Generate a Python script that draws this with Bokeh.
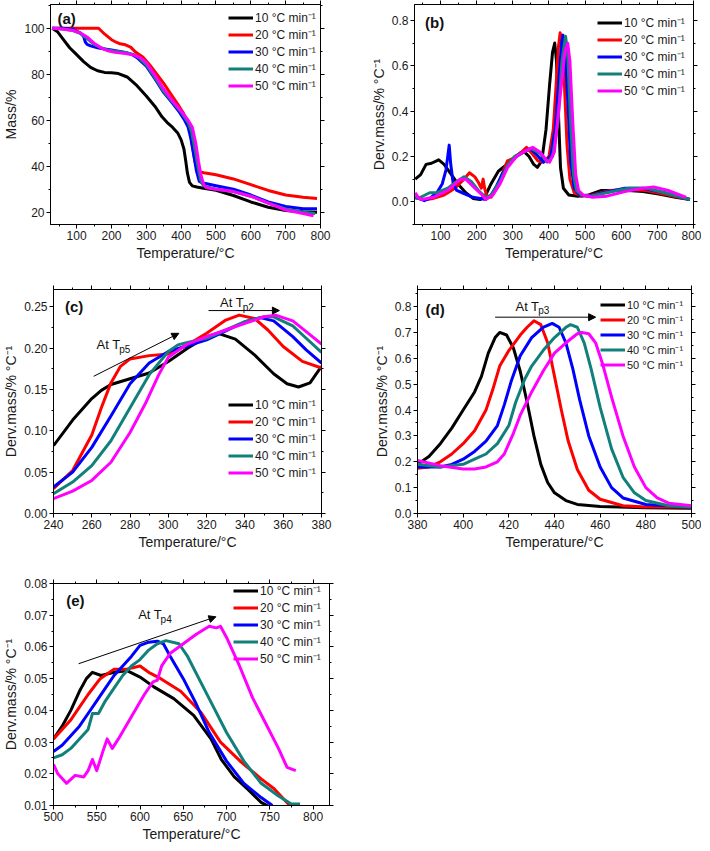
from bokeh.plotting import figure
from bokeh.models import (Range1d, LinearAxis, SingleIntervalTicker, NumeralTickFormatter,
                          CustomJSTickFormatter, Legend, LegendItem, Label, Arrow, NormalHead)
from bokeh.layouts import column, row
from bokeh.embed import file_html
from bokeh.resources import INLINE

RATE_LABELS = ["10 °C min⁻¹", "20 °C min⁻¹", "30 °C min⁻¹", "40 °C min⁻¹", "50 °C min⁻¹"]
COLORS = ["#000000", "#ff0000", "#0000ff", "#12807a", "#ff00ff"]
FONT = "Liberation Sans"

# ---------------- (a) TGA mass % ----------------
a_t10 = [30, 45, 60, 80, 100, 120, 140, 160, 180, 200, 220, 245, 270, 300, 325, 345, 360, 375, 390, 400, 408, 413, 418, 424, 432, 445, 460, 500, 550, 600, 650, 700, 750, 790]
a_m10 = [100, 98.5, 95.5, 91.5, 88.5, 85.5, 83, 81.5, 80.8, 80.6, 80.3, 78.8, 75.5, 70.5, 66, 61.5, 59, 57, 54.5, 51.5, 47.5, 42.5, 37, 33, 31.5, 31, 30.6, 29.6, 27.3, 24.5, 22.2, 20.8, 20.2, 20]
a_t20 = [30, 80, 120, 163, 180, 200, 215, 225, 240, 255, 270, 290, 310, 330, 350, 370, 390, 405, 415, 425, 432, 440, 448, 455, 465, 500, 550, 600, 650, 700, 750, 790]
a_m20 = [100, 100, 100, 100, 97.5, 95, 93.8, 93.2, 92.8, 91.8, 89.5, 87.5, 84, 80, 76, 71.5, 67, 63.5, 60.5, 56, 49, 42, 38.5, 37.5, 37.2, 36.3, 34.5, 32, 29.5, 27.5, 26.5, 26]
a_t30 = [30, 60, 90, 110, 120, 125, 130, 140, 160, 180, 200, 220, 240, 260, 275, 300, 325, 350, 375, 395, 410, 420, 428, 436, 444, 452, 460, 470, 500, 550, 600, 650, 700, 750, 790]
a_m30 = [100, 100, 99.5, 98, 96.5, 94, 93, 92.3, 91.5, 91, 90.5, 90, 89.5, 88.5, 87, 83.5, 78, 72, 67.5, 63.5, 60, 57, 52, 45, 38, 33.5, 32.8, 32.5, 31.5, 30, 27.5, 24.5, 22.5, 21.5, 21.5]
a_t40 = [30, 60, 90, 110, 130, 150, 170, 190, 210, 240, 265, 280, 300, 325, 350, 375, 400, 420, 430, 440, 448, 456, 464, 475, 500, 550, 600, 650, 700, 750, 785]
a_m40 = [100, 99.7, 99, 97.8, 95.5, 93, 91.5, 90.5, 90, 89.5, 88.5, 87, 84, 78.5, 72.5, 68, 63.5, 59, 55, 47, 40, 34, 31.5, 31, 30, 29, 27, 24, 21.5, 20, 19.5]
a_t50 = [30, 60, 90, 110, 130, 150, 170, 190, 210, 240, 265, 285, 300, 325, 350, 375, 400, 420, 432, 442, 450, 457, 465, 472, 490, 550, 600, 650, 700, 750, 780]
a_m50 = [100, 99.7, 99, 98, 96.2, 93.5, 91.5, 90.2, 89.5, 89, 88.3, 87, 85, 79.5, 73.5, 68.5, 64, 60, 57, 50, 42, 36, 32, 30.8, 30.2, 29, 27, 24, 21, 19.5, 18.5]

# ---------------- (b) DTG full range ----------------
b_t10 = [30, 45, 60, 75, 95, 110, 130, 150, 170, 190, 210, 225, 240, 260, 280, 300, 320, 332, 345, 358, 368, 380, 392, 402, 410, 416, 421, 426, 432, 440, 455, 480, 510, 545, 580, 620, 660, 700, 750, 790]
b_v10 = [0.10, 0.12, 0.165, 0.17, 0.185, 0.165, 0.12, 0.075, 0.04, 0.015, 0.01, 0.03, 0.08, 0.135, 0.16, 0.19, 0.215, 0.22, 0.20, 0.165, 0.152, 0.18, 0.32, 0.52, 0.66, 0.70, 0.62, 0.40, 0.15, 0.06, 0.03, 0.025, 0.03, 0.05, 0.05, 0.05, 0.045, 0.035, 0.02, 0.01]
b_t20 = [30, 45, 60, 80, 110, 140, 165, 180, 195, 205, 213, 218, 222, 228, 240, 255, 270, 285, 300, 325, 338, 355, 370, 385, 400, 412, 420, 426, 431, 436, 442, 450, 458, 470, 490, 520, 570, 620, 670, 730, 790]
b_v20 = [0.02, 0.012, 0.01, 0.015, 0.03, 0.06, 0.1, 0.128, 0.11, 0.085, 0.06, 0.10, 0.06, 0.025, 0.02, 0.06, 0.12, 0.18, 0.19, 0.22, 0.24, 0.21, 0.18, 0.175, 0.2, 0.32, 0.52, 0.68, 0.745, 0.70, 0.55, 0.25, 0.1, 0.04, 0.025, 0.03, 0.05, 0.055, 0.05, 0.03, 0.01]
b_t30 = [30, 40, 55, 70, 90, 105, 115, 120, 124, 128, 135, 145, 160, 175, 190, 210, 225, 240, 255, 270, 290, 310, 330, 348, 365, 385, 405, 418, 428, 435, 439, 444, 452, 460, 470, 485, 510, 550, 610, 660, 720, 790]
b_v30 = [0.02, 0.015, 0.005, 0.015, 0.04, 0.08, 0.14, 0.20, 0.25, 0.17, 0.08, 0.05, 0.04, 0.03, 0.02, 0.015, 0.01, 0.03, 0.07, 0.12, 0.17, 0.2, 0.22, 0.235, 0.21, 0.175, 0.2, 0.33, 0.55, 0.70, 0.735, 0.68, 0.45, 0.18, 0.06, 0.03, 0.025, 0.04, 0.06, 0.06, 0.04, 0.01]
b_t40 = [30, 45, 70, 90, 120, 145, 165, 185, 205, 225, 240, 265, 285, 305, 325, 350, 375, 395, 410, 425, 436, 446, 452, 460, 468, 476, 490, 515, 560, 620, 670, 720, 790]
b_v40 = [0.015, 0.02, 0.04, 0.04, 0.06, 0.09, 0.11, 0.09, 0.05, 0.02, 0.03, 0.09, 0.16, 0.2, 0.215, 0.235, 0.215, 0.175, 0.2, 0.35, 0.62, 0.73, 0.65, 0.35, 0.12, 0.05, 0.03, 0.025, 0.04, 0.06, 0.06, 0.04, 0.01]
b_t50 = [30, 40, 50, 80, 120, 155, 170, 195, 215, 225, 245, 265, 285, 310, 330, 355, 375, 395, 402, 415, 430, 444, 452, 458, 466, 474, 482, 495, 520, 560, 610, 660, 690, 730, 780]
b_v50 = [0.04, 0.015, 0.01, 0.02, 0.05, 0.10, 0.10, 0.06, 0.03, 0.01, 0.03, 0.08, 0.15, 0.2, 0.22, 0.24, 0.22, 0.18, 0.175, 0.22, 0.45, 0.66, 0.70, 0.62, 0.35, 0.12, 0.05, 0.03, 0.02, 0.025, 0.045, 0.06, 0.065, 0.05, 0.02]

# ---------------- (c) DTG 240-380 ----------------
c_t10 = [240, 250, 260, 265, 270, 280, 290, 300, 310, 320, 326, 335, 345, 355, 362, 368, 374, 380]
c_v10 = [0.082, 0.113, 0.139, 0.149, 0.156, 0.163, 0.170, 0.184, 0.200, 0.214, 0.218, 0.211, 0.192, 0.169, 0.157, 0.153, 0.158, 0.178]
c_t20 = [240, 250, 260, 265, 270, 275, 280, 290, 300, 310, 320, 330, 337, 345, 352, 360, 370, 380]
c_v20 = [0.030, 0.052, 0.095, 0.128, 0.158, 0.178, 0.187, 0.191, 0.193, 0.204, 0.218, 0.234, 0.240, 0.236, 0.222, 0.202, 0.184, 0.176]
c_t30 = [240, 250, 260, 270, 280, 290, 300, 310, 320, 330, 340, 348, 355, 365, 372, 380]
c_v30 = [0.032, 0.050, 0.080, 0.118, 0.157, 0.182, 0.196, 0.203, 0.210, 0.221, 0.232, 0.237, 0.233, 0.214, 0.198, 0.182]
c_t40 = [240, 250, 260, 270, 280, 290, 300, 305, 310, 320, 330, 340, 350, 355, 365, 372, 380]
c_v40 = [0.024, 0.038, 0.058, 0.088, 0.128, 0.168, 0.196, 0.204, 0.207, 0.212, 0.222, 0.232, 0.238, 0.238, 0.227, 0.212, 0.195]
c_t50 = [240, 250, 260, 270, 280, 288, 295, 300, 310, 320, 330, 340, 350, 356, 365, 372, 380]
c_v50 = [0.018, 0.027, 0.040, 0.062, 0.098, 0.133, 0.168, 0.189, 0.205, 0.214, 0.222, 0.230, 0.238, 0.240, 0.233, 0.220, 0.205]

# ---------------- (d) DTG 380-500 ----------------
d_t10 = [380, 385, 390, 395, 400, 405, 408, 411, 414, 416, 419, 422, 425, 428, 431, 434, 437, 440, 445, 450, 460, 480, 500]
d_v10 = [0.19, 0.22, 0.27, 0.33, 0.40, 0.47, 0.53, 0.62, 0.68, 0.70, 0.69, 0.64, 0.55, 0.43, 0.30, 0.19, 0.12, 0.08, 0.05, 0.035, 0.027, 0.022, 0.02]
d_t20 = [380, 385, 390, 395, 400, 405, 410, 413, 416, 420, 425, 428, 431, 434, 437, 440, 443, 446, 450, 455, 460, 470, 480, 500]
d_v20 = [0.175, 0.18, 0.2, 0.23, 0.27, 0.32, 0.4, 0.48, 0.57, 0.63, 0.69, 0.72, 0.745, 0.73, 0.66, 0.53, 0.4, 0.28, 0.17, 0.09, 0.055, 0.03, 0.025, 0.025]
d_t30 = [380, 390, 395, 400, 405, 410, 415, 418, 421, 425, 430, 435, 439, 442, 445, 448, 451, 455, 460, 465, 470, 480, 490, 500]
d_v30 = [0.18, 0.18, 0.19, 0.21, 0.24, 0.28, 0.34, 0.42, 0.51, 0.61, 0.68, 0.72, 0.735, 0.72, 0.66, 0.56, 0.44, 0.3, 0.18, 0.1, 0.06, 0.035, 0.03, 0.025]
d_t40 = [380, 390, 400, 405, 410, 415, 420, 423, 427, 430, 435, 440, 445, 447, 450, 453, 456, 460, 465, 470, 475, 480, 490, 500]
d_v40 = [0.19, 0.18, 0.19, 0.21, 0.23, 0.27, 0.34, 0.43, 0.52, 0.57, 0.63, 0.68, 0.72, 0.73, 0.72, 0.66, 0.56, 0.41, 0.25, 0.14, 0.08, 0.05, 0.03, 0.025]
d_t50 = [380, 390, 400, 405, 410, 415, 418, 422, 425, 430, 435, 440, 445, 450, 452, 455, 458, 461, 465, 470, 475, 480, 485, 490, 500]
d_v50 = [0.205, 0.185, 0.172, 0.172, 0.18, 0.2, 0.23, 0.31, 0.38, 0.47, 0.55, 0.62, 0.66, 0.695, 0.70, 0.695, 0.66, 0.58, 0.45, 0.3, 0.18, 0.1, 0.06, 0.04, 0.03]

# ---------------- (e) DTG 500-800 ----------------
e_t10 = [500, 510, 520, 530, 538, 545, 555, 570, 585, 600, 616, 639, 662, 682, 694, 709, 725, 740, 750]
e_v10 = [0.031, 0.035, 0.040, 0.046, 0.050, 0.052, 0.051, 0.052, 0.0525, 0.0505, 0.0474, 0.0437, 0.0384, 0.031, 0.0245, 0.019, 0.015, 0.011, 0.0095]
e_t20 = [500, 510, 520, 530, 540, 554, 570, 585, 600, 610, 624, 647, 670, 693, 717, 740, 755, 773]
e_v20 = [0.031, 0.034, 0.037, 0.041, 0.045, 0.050, 0.053, 0.053, 0.054, 0.052, 0.050, 0.046, 0.0395, 0.030, 0.0237, 0.0184, 0.0153, 0.010]
e_t30 = [500, 510, 520, 530, 540, 550, 560, 570, 580, 590, 600, 610, 620, 627, 635, 650, 665, 680, 700, 720, 740, 753]
e_v30 = [0.027, 0.029, 0.032, 0.035, 0.039, 0.043, 0.047, 0.051, 0.054, 0.057, 0.0605, 0.0615, 0.0618, 0.061, 0.057, 0.050, 0.042, 0.033, 0.024, 0.017, 0.0125, 0.010]
e_t40 = [500, 510, 520, 530, 540, 545, 552, 560, 570, 580, 590, 600, 610, 620, 630, 645, 655, 670, 685, 700, 720, 740, 760, 775, 785]
e_v40 = [0.025, 0.026, 0.028, 0.031, 0.034, 0.039, 0.039, 0.043, 0.047, 0.051, 0.054, 0.056, 0.059, 0.061, 0.062, 0.061, 0.057, 0.049, 0.041, 0.033, 0.024, 0.017, 0.013, 0.0105, 0.0105]
e_t50 = [500, 505, 515, 525, 535, 540, 545, 550, 557, 562, 568, 575, 590, 605, 615, 620, 625, 635, 650, 665, 680, 688, 693, 700, 715, 730, 745, 760, 770, 780]
e_v50 = [0.023, 0.020, 0.017, 0.0195, 0.019, 0.021, 0.0245, 0.021, 0.027, 0.031, 0.028, 0.031, 0.038, 0.045, 0.049, 0.0495, 0.054, 0.058, 0.061, 0.064, 0.0665, 0.066, 0.0665, 0.063, 0.054, 0.044, 0.036, 0.028, 0.022, 0.021]

DERIV_LABEL = "Derv.mass/% °C⁻¹"


def style_axis(ax, ticker, fmt=None, labels=True):
    ax.ticker = ticker
    ax.major_tick_in = 0
    ax.major_tick_out = 4
    ax.minor_tick_in = 0
    ax.minor_tick_out = 2
    ax.axis_line_color = "black"
    ax.major_tick_line_color = "black"
    ax.minor_tick_line_color = "black"
    if labels:
        ax.major_label_text_font = FONT
        ax.major_label_text_font_size = "12px"
        ax.major_label_text_color = "#1a1a1a"
        ax.major_label_standoff = 2
        ax.axis_label_text_font = FONT
        ax.axis_label_text_font_size = "14px"
        ax.axis_label_text_font_style = "normal"
        ax.axis_label_text_color = "#1a1a1a"
        ax.axis_label_standoff = 2
        if fmt:
            ax.formatter = NumeralTickFormatter(format=fmt)
    else:
        ax.formatter = CustomJSTickFormatter(code="return ''")
        ax.major_label_standoff = 0


def make_panel(width, height, borders, xr, yr, xint, yint, yfmt, ylabel, series,
               leg_right, leg_top, leg_font, leg_bottom=None, letter="", letter_xy=(0, 0)):
    l, r, t, b = borders
    p = figure(width=width, height=height, x_range=Range1d(*xr), y_range=Range1d(*yr),
               output_backend="svg", toolbar_location=None,
               min_border_left=l, min_border_right=r, min_border_top=t, min_border_bottom=b)
    p.xgrid.visible = False
    p.ygrid.visible = False
    p.outline_line_color = "black"
    style_axis(p.xaxis[0], SingleIntervalTicker(interval=xint, num_minor_ticks=2), "0")
    p.xaxis[0].axis_label = "Temperature/°C"
    style_axis(p.yaxis[0], SingleIntervalTicker(interval=yint, num_minor_ticks=2), yfmt)
    p.yaxis[0].axis_label = ylabel
    top = LinearAxis()
    style_axis(top, SingleIntervalTicker(interval=xint, num_minor_ticks=2), labels=False)
    p.add_layout(top, "above")
    right = LinearAxis()
    style_axis(right, SingleIntervalTicker(interval=yint, num_minor_ticks=2), labels=False)
    p.add_layout(right, "right")

    items = []
    for (xs, ys), lab, col in zip(series, RATE_LABELS, COLORS):
        rr = p.line(xs, ys, line_color=col, line_width=3, line_join="round")
        items.append(LegendItem(label=lab, renderers=[rr]))

    fw = width - l - r
    fh = height - t - b
    lw = 4 + 25 + 2 + int(leg_font * 5.3)
    lh = 4 + 5 * 15
    ly = (fh - leg_top - lh) if leg_bottom is None else leg_bottom
    legend = Legend(items=items, location=(fw - leg_right - lw, ly),
                    border_line_color=None, background_fill_alpha=0,
                    glyph_width=25, glyph_height=15, label_height=15, spacing=0,
                    padding=2, margin=0, label_standoff=2,
                    label_text_font=FONT, label_text_font_size=f"{leg_font}px",
                    label_text_color="#1a1a1a")
    p.add_layout(legend)

    p.add_layout(Label(x=letter_xy[0], y=letter_xy[1], text=letter, text_font=FONT,
                       text_font_size="15px", text_font_style="bold",
                       text_baseline="top", text_color="#111111"))
    return p


def add_arrow_note(p, start, end, text_xy, sub, sub_xy):
    p.add_layout(Arrow(end=NormalHead(size=7, fill_color="black", line_color="black"),
                       x_start=start[0], y_start=start[1], x_end=end[0], y_end=end[1],
                       line_color="black", line_width=1))
    p.add_layout(Label(x=text_xy[0], y=text_xy[1], text="At T", text_font=FONT,
                       text_font_size="13px", text_baseline="middle", text_color="#111111"))
    p.add_layout(Label(x=sub_xy[0], y=sub_xy[1], text=sub, text_font=FONT,
                       text_font_size="10px", text_baseline="middle", text_color="#111111"))


pa = make_panel(349, 263, (44, 29, 4, 39), (25, 800), (14.7, 110.3), 100, 20, "0", "Mass/%",
                [(a_t10, a_m10), (a_t20, a_m20), (a_t30, a_m30), (a_t40, a_m40), (a_t50, a_m50)],
                leg_right=4, leg_top=11, leg_font=12, letter="(a)", letter_xy=(45, 108))
pb = make_panel(352, 263, (65, 8, 4, 39), (28, 800), (-0.1, 0.87), 100, 0.2, "0.0", DERIV_LABEL,
                [(b_t10, b_v10), (b_t20, b_v20), (b_t30, b_v30), (b_t40, b_v40), (b_t50, b_v50)],
                leg_right=2, leg_top=16, leg_font=12, letter="(b)", letter_xy=(57, 0.83))
pc = make_panel(349, 290, (50, 28, 26, 40), (240, 380), (0, 0.271), 20, 0.05, "0.00", DERIV_LABEL,
                [(c_t10, c_v10), (c_t20, c_v20), (c_t30, c_v30), (c_t40, c_v40), (c_t50, c_v50)],
                leg_right=2, leg_top=0, leg_font=12, leg_bottom=32, letter="(c)", letter_xy=(246, 0.261))
pd = make_panel(352, 290, (68, 10, 20, 40), (380, 500), (0, 0.866), 20, 0.1, "0.0", DERIV_LABEL,
                [(d_t10, d_v10), (d_t20, d_v20), (d_t30, d_v30), (d_t40, d_v40), (d_t50, d_v50)],
                leg_right=2, leg_top=10, leg_font=11, letter="(d)", letter_xy=(383.5, 0.82))
pe = make_panel(349, 291, (53, 20, 30, 39), (500, 819), (0.01, 0.08), 50, 0.01, "0.00", DERIV_LABEL,
                [(e_t10, e_v10), (e_t20, e_v20), (e_t30, e_v30), (e_t40, e_v40), (e_t50, e_v50)],
                leg_right=2, leg_top=5, leg_font=12, letter="(e)", letter_xy=(514.7, 0.0772))

add_arrow_note(pc, (321, 0.2455), (358, 0.2455), (327, 0.2555), "p2", (338.8, 0.2495))
add_arrow_note(pc, (261, 0.166), (305.5, 0.218), (262.5, 0.2045), "p5", (274.3, 0.1985))
add_arrow_note(pd, (414, 0.759), (458, 0.759), (422.9, 0.80), "p3", (432.9, 0.786))
add_arrow_note(pe, (529, 0.0547), (687.7, 0.0695), (597.9, 0.0702), "p4", (623.8, 0.0685))

layout = column(row(pa, pb), row(pc, pd), pe)
open("out.html", "w").write(file_html(layout, INLINE, title="TGA / DTG"))
